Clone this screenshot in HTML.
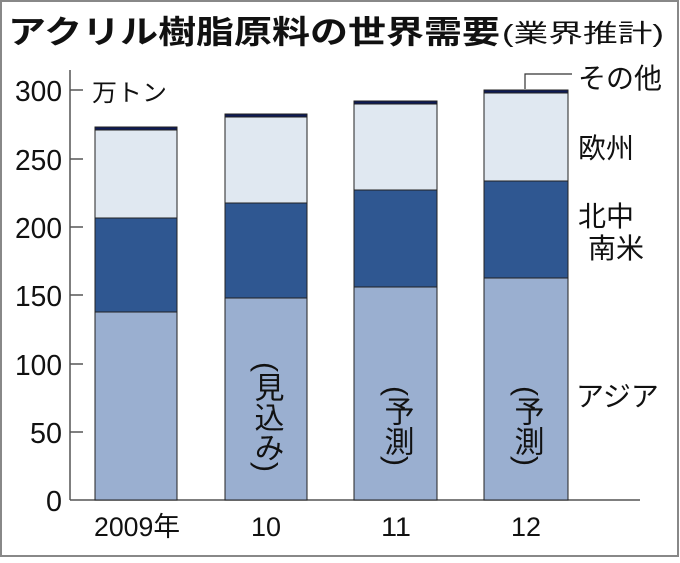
<!DOCTYPE html><html><head><meta charset="utf-8"><style>
body{margin:0;background:#fff}
svg text{font-family:"Liberation Sans","Noto Sans CJK JP",sans-serif;fill:#111}
</style></head><body>
<svg width="680" height="558" viewBox="0 0 680 558">
<rect x="1" y="1" width="677" height="555" fill="#fff" stroke="#888" stroke-width="2"/>
<text x="8" y="43" font-size="32" font-weight="bold" textLength="492" lengthAdjust="spacingAndGlyphs">アクリル樹脂原料の世界需要</text>
<text x="502" y="42" font-size="25" textLength="162" lengthAdjust="spacingAndGlyphs">(業界推計)</text>
<line x1="70" y1="70" x2="70" y2="500" stroke="#555" stroke-width="1.5"/>
<g stroke="#555" stroke-width="1.5">
<line x1="70" y1="90" x2="83" y2="90"/><line x1="70" y1="159" x2="83" y2="159"/>
<line x1="70" y1="227" x2="83" y2="227"/><line x1="70" y1="295" x2="83" y2="295"/>
<line x1="70" y1="364" x2="83" y2="364"/><line x1="70" y1="432" x2="83" y2="432"/>
<line x1="70" y1="500" x2="640" y2="500"/>
</g>
<g font-size="29" text-anchor="end" lengthAdjust="spacingAndGlyphs">
<text x="62" y="101" textLength="47" lengthAdjust="spacingAndGlyphs">300</text><text x="62" y="170" textLength="47" lengthAdjust="spacingAndGlyphs">250</text><text x="62" y="238" textLength="47" lengthAdjust="spacingAndGlyphs">200</text>
<text x="62" y="306" textLength="47" lengthAdjust="spacingAndGlyphs">150</text><text x="62" y="375" textLength="47" lengthAdjust="spacingAndGlyphs">100</text><text x="62" y="443" textLength="32" lengthAdjust="spacingAndGlyphs">50</text><text x="62" y="511" textLength="16" lengthAdjust="spacingAndGlyphs">0</text>
</g>
<text x="92" y="101" font-size="24" textLength="75" lengthAdjust="spacingAndGlyphs">万トン</text>
<g stroke="#222" stroke-width="1">
<rect x="95" y="312" width="82" height="188" fill="#9aafd0"/><rect x="95" y="218" width="82" height="94" fill="#2f5791"/><rect x="95" y="130" width="82" height="88" fill="#e0e8f1"/><rect x="95" y="127" width="82" height="3" fill="#0d1a55"/>
<rect x="225" y="298" width="82" height="202" fill="#9aafd0"/><rect x="225" y="203" width="82" height="95" fill="#2f5791"/><rect x="225" y="117" width="82" height="86" fill="#e0e8f1"/><rect x="225" y="114" width="82" height="3" fill="#0d1a55"/>
<rect x="354" y="287" width="83" height="213" fill="#9aafd0"/><rect x="354" y="190" width="83" height="97" fill="#2f5791"/><rect x="354" y="104" width="83" height="86" fill="#e0e8f1"/><rect x="354" y="101" width="83" height="3" fill="#0d1a55"/>
<rect x="484" y="278" width="84" height="222" fill="#9aafd0"/><rect x="484" y="181" width="84" height="97" fill="#2f5791"/><rect x="484" y="93" width="84" height="88" fill="#e0e8f1"/><rect x="484" y="90" width="84" height="3" fill="#0d1a55"/>
</g>
<polyline points="525,89 525,74 572,74" fill="none" stroke="#333" stroke-width="1.2"/>
<g font-size="28">
<text x="578" y="88">その他</text><text x="578" y="158">欧州</text>
<text x="578" y="226">北中</text><text x="588" y="258">南米</text><text x="576" y="406">アジア</text>
</g>
<g font-size="30">
<text x="266" y="362" style="writing-mode:vertical-rl">(見込み)</text>
<text x="396" y="386" style="writing-mode:vertical-rl">(予測)</text>
<text x="526" y="386" style="writing-mode:vertical-rl">(予測)</text>
</g>
<g font-size="27" text-anchor="middle">
<text x="137" y="536" textLength="86" lengthAdjust="spacingAndGlyphs">2009年</text><text x="266" y="536" textLength="30" lengthAdjust="spacingAndGlyphs">10</text><text x="396" y="536" textLength="30" lengthAdjust="spacingAndGlyphs">11</text><text x="526" y="536" textLength="30" lengthAdjust="spacingAndGlyphs">12</text>
</g>
</svg></body></html>
